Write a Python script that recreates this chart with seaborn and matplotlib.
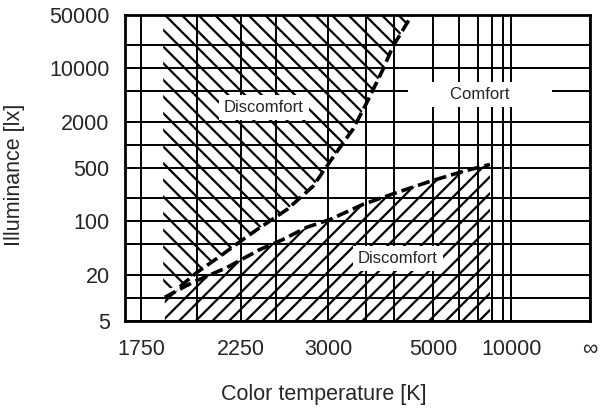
import numpy as np
import matplotlib
matplotlib.use("Agg")
from matplotlib import pyplot as plt
from matplotlib.ticker import FixedLocator, NullFormatter
import seaborn as sns

# Kruithof-style comfort chart
upper_temp = [1840, 1915, 1997, 2122, 2262, 2357, 2591, 2834, 3054, 3312, 3520, 3792, 3985, 4410]
upper_lux = [13, 14, 21.5, 35, 58, 78, 143, 287, 687, 1600, 3600, 9700, 19400, 50000]

lower_temp = [1847, 1977, 2163, 2379, 2557, 2774, 3020, 3458, 4067, 4906, 6180, 7850]
lower_lux = [10.2, 16, 25, 43, 58, 84, 106, 167, 239, 334, 451, 556]

x_ticks = [1750, 2250, 3000, 5000, 10000, 1e12]
x_ticklabels = ['1750', '2250', '3000', '5000', '10000', '∞']
x_minor = [2000, 2500, 3500, 4000, 6000, 7000, 8000, 9000]

y_ticks = [5, 20, 100, 500, 2000, 10000, 50000]
y_ticklabels = ['5', '20', '100', '500', '2000', '10000', '50000']
y_minor = [10, 50, 200, 1000, 5000, 20000]

sns.set_style('white')
plt.rcParams['font.family'] = ['Liberation Sans', 'DejaVu Sans']
plt.rcParams['hatch.linewidth'] = 1.6


def to_mired(t):
    t = np.asarray(t, dtype=float)
    with np.errstate(divide='ignore', invalid='ignore'):
        return -1e6 / t


fig = plt.figure(figsize=(6.09, 4.11), dpi=100)
ax = fig.add_axes([0.2053, 0.219, 0.7635, 0.7445])

# hatched discomfort zones
ax.fill_between(upper_temp, upper_lux, 50000, facecolor='none', edgecolor='black',
                linewidth=0, hatch='\\\\', zorder=1)
ax.fill_between(lower_temp, 5, lower_lux, facecolor='none', edgecolor='black',
                linewidth=0, hatch='//', zorder=1)

sns.lineplot(x=upper_temp[1:], y=upper_lux[1:], ax=ax, color='black', lw=2.6,
             linestyle=(0, (3.4, 1.4)), zorder=4)
sns.lineplot(x=lower_temp, y=lower_lux, ax=ax, color='black', lw=2.6,
             linestyle=(0, (3.4, 1.4)), zorder=4)

ax.set_xscale('function', functions=(to_mired, to_mired))
ax.set_yscale('log')
ax.set_xlim(1689, 1e12)
ax.set_ylim(5, 50000)

ax.xaxis.set_major_locator(FixedLocator(x_ticks))
ax.xaxis.set_minor_locator(FixedLocator(x_minor))
ax.set_xticklabels(x_ticklabels)
ax.xaxis.set_minor_formatter(NullFormatter())
ax.yaxis.set_major_locator(FixedLocator(y_ticks))
ax.yaxis.set_minor_locator(FixedLocator(y_minor))
ax.set_yticklabels(y_ticklabels)
ax.yaxis.set_minor_formatter(NullFormatter())

ax.grid(which='both', color='black', lw=1.4)
ax.set_axisbelow(False)
ax.tick_params(which='both', length=0, labelsize=15.5)
ax.tick_params(axis='x', pad=13)
ax.tick_params(axis='y', pad=11)
for s in ax.spines.values():
    s.set_color('black')
    s.set_linewidth(2)

box = dict(facecolor='white', edgecolor='none', boxstyle='square,pad=0.3')
ax.text(2408, 3090, 'Discomfort', fontsize=12, ha='center', va='center', bbox=box, zorder=5)
ax.text(7140, 4570, '        Comfort        ', fontsize=12, ha='center', va='center',
        bbox=box, zorder=5)
ax.text(4085, 32.8, 'Discomfort', fontsize=12, ha='center', va='center', bbox=box, zorder=5)

ax.set_xlabel('Color temperature [K]', fontsize=15.5)
ax.set_ylabel('Illuminance [lx]', fontsize=15.5)
ax.xaxis.set_label_coords(0.428, -0.206)
ax.yaxis.set_label_coords(-0.215, 0.477)

fig.savefig('out.png', dpi=100)
